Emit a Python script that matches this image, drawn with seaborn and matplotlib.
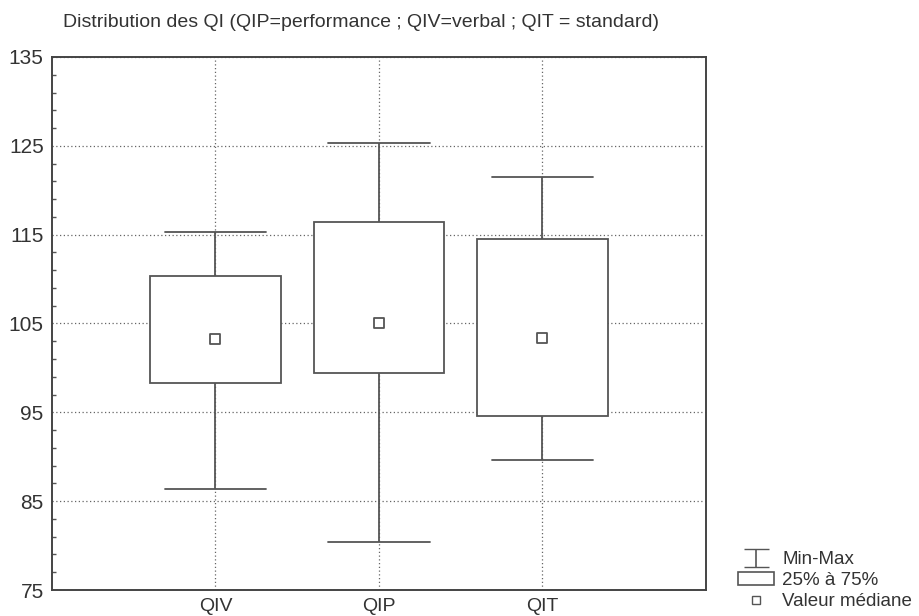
import numpy as np
import pandas as pd
import seaborn as sns
import matplotlib.pyplot as plt
from matplotlib.patches import Patch
from matplotlib.lines import Line2D

# Summary values: min, 25%, median, 75%, max
categories = ["QIV", "QIP", "QIT"]
q_min = [86.4, 80.4, 89.6]
q_25 = [98.3, 99.4, 94.6]
q_med = [103.2, 105.0, 103.4]
q_75 = [110.3, 116.4, 114.5]
q_max = [115.3, 125.3, 121.5]
y_ticks = [75, 85, 95, 105, 115, 125, 135]

# five points per category give exactly these quartiles with linear percentiles
rows = []
for i, cat in enumerate(categories):
    for v in (q_min[i], q_25[i], q_med[i], q_75[i], q_max[i]):
        rows.append({"Variable": cat, "QI": v})
df = pd.DataFrame(rows)
med = pd.DataFrame({"Variable": categories, "QI": q_med})

sns.set_theme(style="white")
plt.rcParams["font.family"] = ["Liberation Sans", "DejaVu Sans"]
plt.rcParams["text.color"] = "#333333"
plt.rcParams["xtick.color"] = "#333333"
plt.rcParams["ytick.color"] = "#333333"

line_col = "#555555"
fig = plt.figure(figsize=(9.19, 6.16), dpi=100)
ax = fig.add_axes([0.0566, 0.0422, 0.7115, 0.8653])

sns.boxplot(data=df, x="Variable", y="QI", order=categories, whis=(0, 100),
            width=0.8, color="white", linecolor=line_col, linewidth=1.3,
            showcaps=True, fliersize=0, ax=ax,
            medianprops={"visible": False},
            capprops={"color": line_col},
            whiskerprops={"color": line_col},
            boxprops={"facecolor": "white", "edgecolor": line_col, "zorder": 3})
sns.scatterplot(data=med, x="Variable", y="QI", marker="s", s=45,
                facecolor="white", edgecolor=line_col, linewidth=1.3,
                ax=ax, zorder=5, legend=False)

# make caps ~0.6 wide
for ln in ax.lines:
    xd = np.asarray(ln.get_xdata(), dtype=float)
    yd = np.asarray(ln.get_ydata(), dtype=float)
    if len(xd) == 2 and yd[0] == yd[1] and abs(xd[1] - xd[0]) > 0.01:
        c = xd.mean()
        ln.set_xdata([c - 0.31, c + 0.31])

ax.set_xlim(-1, 3)
ax.set_ylim(75, 135)
ax.set_yticks(y_ticks)
ax.set_yticks(np.arange(77, 135, 2), minor=True)
ax.grid(True, which="major", linestyle=(0, (1, 2)), color="#666666", linewidth=0.9)
ax.set_axisbelow(True)
ax.tick_params(axis="y", which="major", direction="in", length=0, labelsize=15, pad=6)
ax.tick_params(axis="y", which="minor", direction="in", length=3, left=True, color="#555555")
ax.tick_params(axis="x", length=0, labelsize=14, pad=6)
ax.set_xlabel("")
ax.set_ylabel("")
for sp in ax.spines.values():
    sp.set_color("#444444")
    sp.set_linewidth(1.4)

fig.text(0.069, 0.964, "Distribution des QI (QIP=performance ; QIV=verbal ; QIT = standard)",
         fontsize=14, ha="left", va="center")

eb = ax.errorbar([np.nan], [np.nan], yerr=[1], fmt="none", ecolor=line_col,
                 elinewidth=1.2, capsize=9)
handles = [eb,
           Patch(facecolor="white", edgecolor=line_col, linewidth=1.2),
           Line2D([], [], marker="s", linestyle="none", markersize=6,
                  markerfacecolor="white", markeredgecolor=line_col)]
labels = ["Min-Max", "25% à 75%", "Valeur médiane"]
fig.legend(handles, labels, loc="lower left", bbox_to_anchor=(0.785, -0.018),
           frameon=False, fontsize=13.5, handlelength=1.9, labelspacing=0.2,
           handletextpad=0.45)

fig.savefig("out.png", dpi=100)
